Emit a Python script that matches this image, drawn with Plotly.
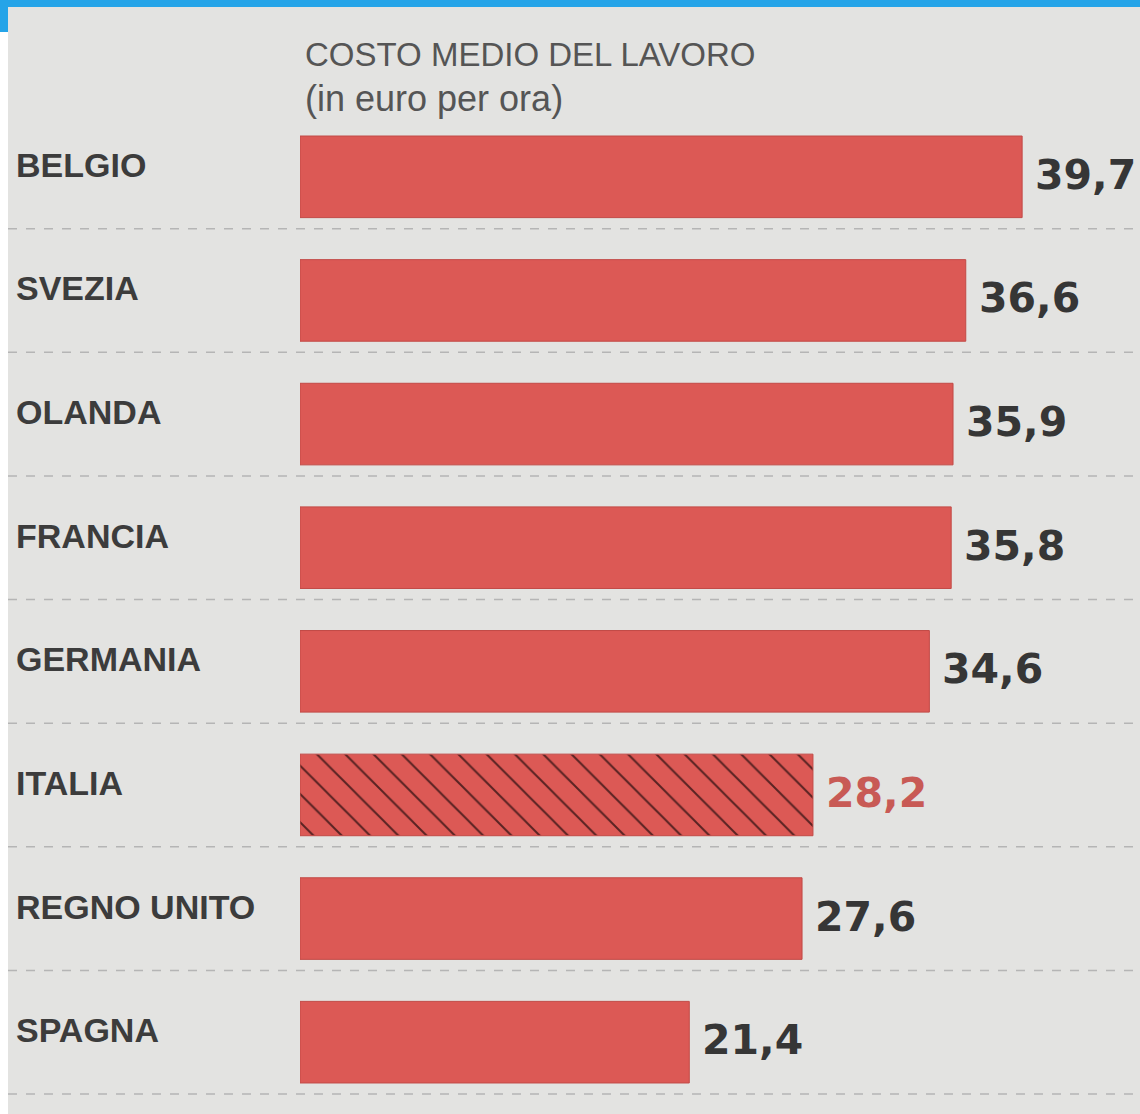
import plotly.graph_objects as go

countries = ["BELGIO", "SVEZIA", "OLANDA", "FRANCIA", "GERMANIA", "ITALIA", "REGNO UNITO", "SPAGNA"]
values = [39.7, 36.6, 35.9, 35.8, 34.6, 28.2, 27.6, 21.4]
highlight = "ITALIA"
title_lines = ["COSTO MEDIO DEL LAVORO", "(in euro per ora)"]

W, H = 1140, 1114
ML, MR, MT, MB = 300, 0, 115, 10
PW = W - ML - MR
PH = H - MT - MB
BG = "#e3e3e1"
RED = "#dc5955"
EDGE = "#c24a46"
HATCH = "#4a1c1c"

def px_x(p):
    return (p - ML) / PW

def px_y(p):
    return (H - MB - p) / PH

n = len(countries)
patterns = ["\\" if c == highlight else "" for c in countries]

fig = go.Figure()
fig.add_trace(go.Bar(
    x=values, y=countries, orientation="h",
    marker=dict(color=RED, line=dict(color=EDGE, width=1),
                pattern=dict(shape=patterns, fgcolor=[HATCH] * n, bgcolor=[RED] * n,
                             size=20, solidity=0.1, fillmode="overlay", fgopacity=0.9)),
    width=0.66, hoverinfo="skip",
))

annotations = []
for c, v in zip(countries, values):
    is_h = c == highlight
    annotations.append(dict(
        x=v, y=c, xref="x", yref="y", xanchor="left", yanchor="middle",
        xshift=11, yshift=2, showarrow=False,
        text=f"<b>{v:.1f}</b>".replace(".", ","),
        font=dict(family="DejaVu Sans, Liberation Sans, Arial", size=41,
                  color="#c85a55" if is_h else "#363636"),
    ))
    annotations.append(dict(
        x=px_x(14), y=c, xref="paper", yref="y", xanchor="left", yanchor="middle",
        yshift=12, showarrow=False,
        text=f"<b>{c}</b>",
        font=dict(family="Liberation Sans, Arial", size=34, color="#3c3c3c"),
    ))

annotations.append(dict(
    x=px_x(303), y=px_y(54), xref="paper", yref="paper", xanchor="left", yanchor="middle",
    showarrow=False, text=title_lines[0],
    font=dict(family="Liberation Sans, Arial", size=33, color="#555555"),
))
annotations.append(dict(
    x=px_x(303), y=px_y(99), xref="paper", yref="paper", xanchor="left", yanchor="middle",
    showarrow=False, text=title_lines[1],
    font=dict(family="Liberation Sans, Arial", size=36, color="#555555"),
))

shapes = []
for i in range(n):
    shapes.append(dict(type="line", xref="paper", yref="y",
                       x0=px_x(8), x1=1, y0=i + 0.42, y1=i + 0.42,
                       line=dict(color="#b5b5b5", width=1.5, dash="dash"), layer="below"))
shapes.append(dict(type="rect", xref="paper", yref="paper",
                   x0=px_x(0), x1=px_x(8), y0=px_y(H), y1=px_y(0),
                   fillcolor="#ffffff", line=dict(width=0), layer="above"))
shapes.append(dict(type="rect", xref="paper", yref="paper",
                   x0=px_x(0), x1=px_x(W), y0=px_y(7), y1=px_y(0),
                   fillcolor="#25a4e8", line=dict(width=0), layer="above"))
shapes.append(dict(type="rect", xref="paper", yref="paper",
                   x0=px_x(0), x1=px_x(8), y0=px_y(32), y1=px_y(0),
                   fillcolor="#25a4e8", line=dict(width=0), layer="above"))

fig.update_layout(
    width=W, height=H,
    margin=dict(l=ML, r=MR, t=MT, b=MB, pad=0),
    paper_bgcolor=BG, plot_bgcolor=BG,
    showlegend=False,
    xaxis=dict(range=[0, PW / 18.19], visible=False, fixedrange=True),
    yaxis=dict(categoryorder="array", categoryarray=countries,
               range=[n - 0.5, -0.5], visible=False, fixedrange=True),
    annotations=annotations, shapes=shapes,
)

fig.write_html("out.html", config={"displayModeBar": False},
               post_script="document.body.style.margin='0';document.body.style.padding='0';document.body.style.overflow='hidden';")
